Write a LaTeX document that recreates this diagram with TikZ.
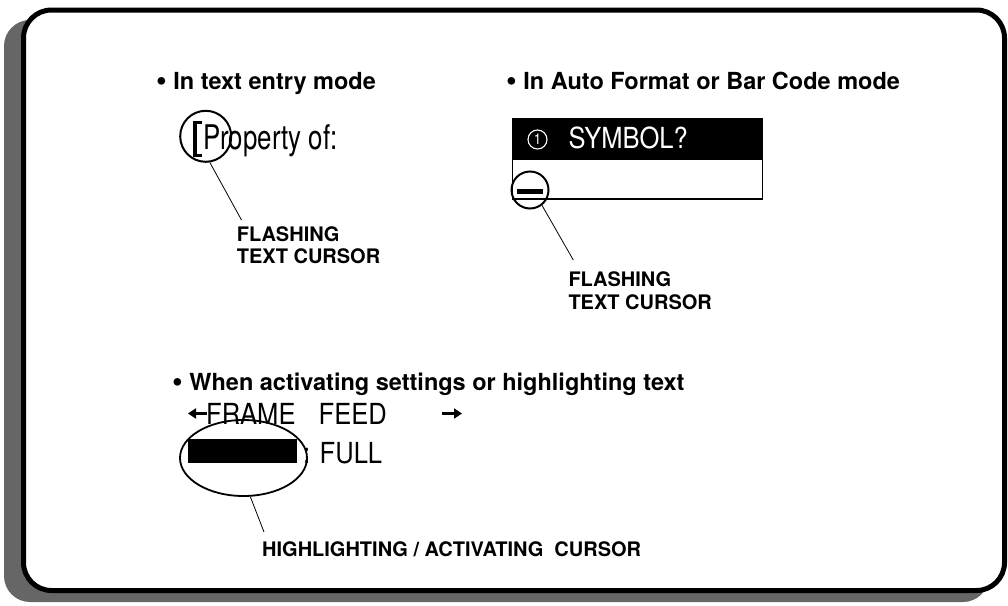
\documentclass[tikz,border=0pt]{standalone}
\usepackage{fontspec}
\setmainfont{TeX Gyre Heros}
\newfontfamily\lcdn[FakeStretch=0.76]{TeX Gyre Heros}
\newfontfamily\lcd[FakeStretch=0.88]{TeX Gyre Heros}
\usetikzlibrary{shapes.geometric,arrows.meta}
\newcommand{\bigbul}{\raisebox{-0.08em}{\scalebox{1.3}{\textbullet}}}
\begin{document}
\begin{tikzpicture}[x=1pt,y=-1pt,
  headtxt/.style={anchor=base west,inner sep=0,font=\fontsize{23.5}{28}\selectfont\bfseries},
  labtxt/.style={anchor=north west,inner sep=0,align=left,font=\fontsize{20}{22.5}\selectfont\bfseries},
  lcdtxt/.style={anchor=base west,inner sep=0},
  ringc/.style={draw,line width=2pt,inner sep=0},
  leadln/.style={line width=0.8pt},
  arrowk/.style={line width=3.2pt,-{Triangle[length=8pt,width=10pt]}}]
\useasboundingbox (0,0) rectangle (1008,605);
% shadow and frame
\fill[black!60,rounded corners=26pt] (4,20) rectangle (989,602);
\draw[line width=5pt,fill=white,rounded corners=28pt] (23.5,10) rectangle (1004.5,590.5);
% headings
\node[headtxt] (h1) at (156,89) {\bigbul\ In text entry mode};
\node[headtxt] (h2) at (506,89) {\bigbul\ In Auto Format or Bar Code mode};
\node[headtxt] (h3) at (172,390) {\bigbul\ When activating settings or highlighting text};
% text entry mode
\draw[line width=3.4pt] (201.5,122.5) -- (195,122.5) -- (195,155.5) -- (201.5,155.5);
\node[lcdtxt,font=\lcdn\fontsize{34}{34}\selectfont] (prop) at (203,149.5) {Property of:};
\node[ringc,circle,minimum size=51] (c1) at (205.7,136.3) {};
\coordinate (e1) at (241.5,220);
\draw[leadln] (c1.-81) -- (e1);
\node[labtxt] (l1) at (236.7,226) {FLASHING\\TEXT CURSOR};
% auto format mode
\node[draw,line width=1.5pt,minimum width=250,minimum height=80,anchor=north west,inner sep=0] (box) at (511.7,118.3) {};
\fill (box.north west) rectangle ([yshift=-41.7pt]box.north east);
\node[circle,draw=white,line width=1.1pt,minimum size=19,inner sep=0,text=white,font=\lcd\fontsize{15}{15}\selectfont] (one) at (537.5,139.5) {1};
\node[lcdtxt,text=white,font=\lcd\fontsize{29}{29}\selectfont] (sym) at (568.5,148.5) {SYMBOL?};
\fill (517,189) rectangle (543,193.5);
\node[ringc,circle,minimum size=37] (c2) at (530,190) {};
\coordinate (e2) at (573.3,260);
\draw[leadln] (c2.-52) -- (e2);
\node[labtxt] (l2) at (568.3,271.5) {FLASHING\\TEXT CURSOR};
% highlighting
\coordinate (la) at (188,413.5);
\coordinate (lb) at (207,413.5);
\draw[arrowk] (lb) -- (la);
\node[lcdtxt,font=\lcd\fontsize{29}{29}\selectfont] (frame) at (206,424) {FRAME};
\node[lcdtxt,font=\lcd\fontsize{29}{29}\selectfont] (feed) at (318.5,424) {FEED};
\coordinate (ra) at (442,413.5);
\coordinate (rb) at (462,413.5);
\draw[arrowk] (ra) -- (rb);
\fill (188,439) rectangle (297,463);
\node[ellipse,draw,line width=1.8pt,minimum width=127,minimum height=76,inner sep=0] (ell) at (243.5,458) {};
\node[lcdtxt,font=\lcd\fontsize{29}{29}\selectfont] (full) at (303,463) {: FULL};
\coordinate (e3) at (264,532);
\draw[leadln] (ell.-80) -- (e3);
\node[labtxt] (l3) at (262,541) {HIGHLIGHTING / ACTIVATING\ \ CURSOR};
\end{tikzpicture}
\end{document}
